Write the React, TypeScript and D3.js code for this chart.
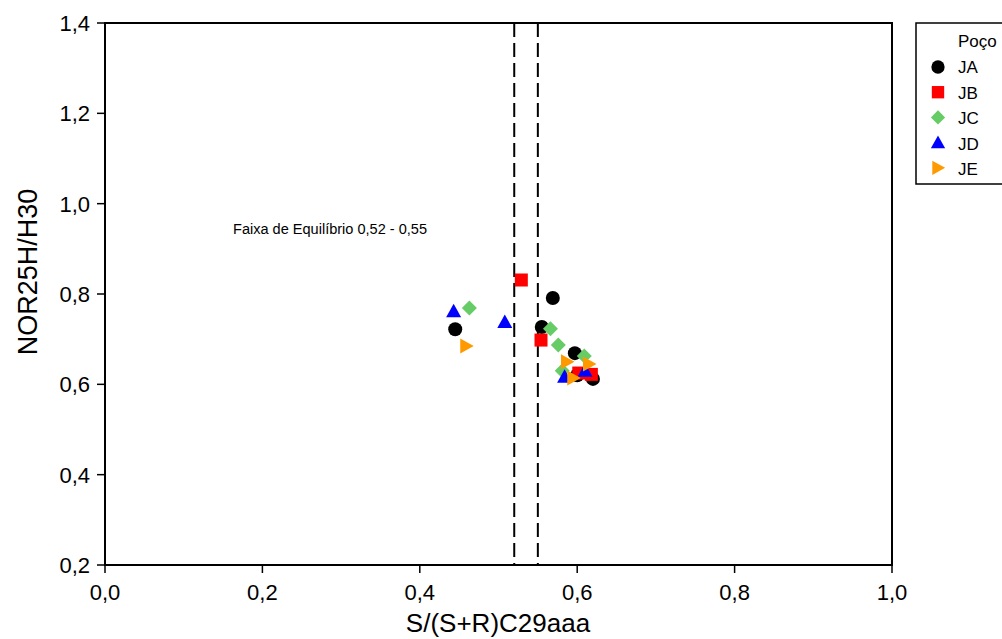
import React from "react";
import * as d3 from "d3";

const xTicks = [0, 0.2, 0.4, 0.6, 0.8, 1.0];
const yTicks = [0.2, 0.4, 0.6, 0.8, 1.0, 1.2, 1.4];
const eqBand = [0.52, 0.55];

const JA: [number, number][] = [[0.445, 0.722], [0.569, 0.791], [0.555, 0.727], [0.597, 0.669], [0.6, 0.62], [0.62, 0.612]];
const JB: [number, number][] = [[0.529, 0.831], [0.554, 0.698], [0.602, 0.625], [0.618, 0.622]];
const JC: [number, number][] = [[0.463, 0.769], [0.566, 0.723], [0.576, 0.687], [0.609, 0.663], [0.581, 0.63]];
const JD: [number, number][] = [[0.443, 0.762], [0.508, 0.738], [0.584, 0.617], [0.61, 0.63]];
const JE: [number, number][] = [[0.459, 0.685], [0.587, 0.65], [0.615, 0.645], [0.595, 0.614]];

const seriesNames = ["JA", "JB", "JC", "JD", "JE"];
const seriesData = [JA, JB, JC, JD, JE];
const colors = ["#000000", "#ff0000", "#66cc66", "#0000ff", "#ff9900"];

const FONT = "'Liberation Sans', Arial, sans-serif";

function marker(i: number, cx: number, cy: number, color: string, key: string, s = 1) {
  if (i === 0) return <circle key={key} cx={cx} cy={cy} r={7 * s} fill={color} />;
  if (i === 1) return <rect key={key} x={cx - 6.5 * s} y={cy - 6.5 * s} width={13 * s} height={13 * s} fill={color} />;
  if (i === 2) {
    const r = 7.5 * s;
    return <path key={key} d={`M${cx},${cy - r}L${cx + r},${cy}L${cx},${cy + r}L${cx - r},${cy}Z`} fill={color} />;
  }
  if (i === 3) {
    const r = 7.5 * s;
    return <path key={key} d={`M${cx},${cy - r}L${cx + r},${cy + r * 0.8}L${cx - r},${cy + r * 0.8}Z`} fill={color} />;
  }
  const r = 7.5 * s;
  return <path key={key} d={`M${cx + r},${cy}L${cx - r * 0.8},${cy - r}L${cx - r * 0.8},${cy + r}Z`} fill={color} />;
}

export default function App() {
  const W = 1002, H = 639;
  const x = d3.scaleLinear().domain([0, 1]).range([105, 892]);
  const y = d3.scaleLinear().domain([0.2, 1.4]).range([565, 23]);
  const fmt = (v: number) => v.toFixed(1).replace(".", ",");
  return (
    <svg width={W} height={H} style={{ position: "absolute", left: 0, top: 0, fontFamily: FONT }}>
      <rect width={W} height={H} fill="#fff" />
      {eqBand.map((v, i) => (
        <line key={"eq" + i} x1={x(v)} x2={x(v)} y1={y(1.4)} y2={y(0.2)} stroke="#000" strokeWidth={2} strokeDasharray="14,6" />
      ))}
      <text x={233} y={234} fontSize={15.5} textLength={194} lengthAdjust="spacingAndGlyphs" fill="#000">Faixa de Equilíbrio 0,52 - 0,55</text>
      {seriesData.map((data, i) =>
        data.map((d, j) => marker(i, x(d[0]), y(d[1]), colors[i], `m${i}-${j}`))
      )}
      <rect x={x(0)} y={y(1.4)} width={x(1) - x(0)} height={y(0.2) - y(1.4)} fill="none" stroke="#000" strokeWidth={2} />
      {xTicks.map((t) => (
        <g key={"xt" + t}>
          <line x1={x(t)} x2={x(t)} y1={565} y2={573} stroke="#000" strokeWidth={1.5} />
          <text x={x(t)} y={600} fontSize={22} textAnchor="middle" fill="#000">{fmt(t)}</text>
        </g>
      ))}
      {yTicks.map((t) => (
        <g key={"yt" + t}>
          <line x1={97} x2={105} y1={y(t)} y2={y(t)} stroke="#000" strokeWidth={1.5} />
          <text x={90} y={y(t) + 8} fontSize={22} textAnchor="end" fill="#000">{fmt(t)}</text>
        </g>
      ))}
      <text x={498} y={632} fontSize={26} textAnchor="middle" fill="#000">S/(S+R)C29aaa</text>
      <text transform={`translate(37,272) rotate(-90)`} fontSize={27} textAnchor="middle" fill="#000">NOR25H/H30</text>
      <rect x={916} y={23} width={100} height={161} fill="#fff" stroke="#000" strokeWidth={1.5} />
      <text x={958} y={47} fontSize={17} fill="#000">Poço</text>
      {seriesNames.map((n, i) => (
        <g key={"lg" + n}>
          {marker(i, 938, 67 + i * 25.2, colors[i], "lm" + i, 0.95)}
          <text x={958} y={73 + i * 25.5} fontSize={17} fill="#000">{n}</text>
        </g>
      ))}
    </svg>
  );
}
